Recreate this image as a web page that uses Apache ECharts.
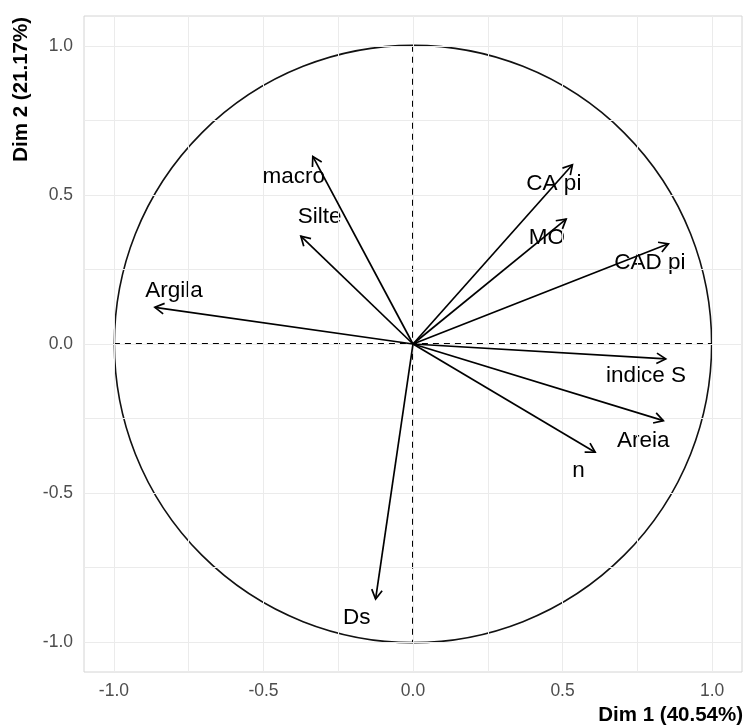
<!DOCTYPE html>
<html>
<head>
<meta charset="utf-8">
<script src="https://cdn.jsdelivr.net/npm/echarts@6/dist/echarts.min.js"></script>
<style>
html,body{margin:0;padding:0;background:#fff;}
#chart{width:745px;height:727px;}
</style>
</head>
<body>
<div id="chart"></div>
<script>
// ---- data ----
const variables = ['Argila', 'macro', 'Silte', 'CA pi', 'MO', 'CAD pi', 'indice S', 'Areia', 'n', 'Ds'];
const dim1 = [-0.863, -0.335, -0.375, 0.533, 0.512, 0.854, 0.845, 0.837, 0.609, -0.125];
const dim2 = [0.123, 0.629, 0.362, 0.601, 0.419, 0.336, -0.050, -0.257, -0.363, -0.855];
// label anchor (data units, as placed in the reference)
const labelDim1 = [-0.799, -0.399, -0.312, 0.471, 0.448, 0.792, 0.779, 0.770, 0.553, -0.188];
const labelDim2 = [0.177, 0.560, 0.427, 0.538, 0.357, 0.274, -0.108, -0.324, -0.425, -0.919];
const tickValues = [-1, -0.5, 0, 0.5, 1];
const gridValues = [-1, -0.75, -0.5, -0.25, 0, 0.25, 0.5, 0.75, 1];
const xTitle = 'Dim 1 (40.54%)';
const yTitle = 'Dim 2 (21.17%)';

const FONT = '"Liberation Sans", Arial, Helvetica, sans-serif';

const arrowData = variables.map((v, i) => [dim1[i], dim2[i], labelDim1[i], labelDim2[i], v]);

const chart = echarts.init(document.getElementById('chart'), null, {renderer: 'canvas'});

function axisCommon() {
  return {
    type: 'value', min: -1.1, max: 1.1,
    axisLine: {show: false},
    splitLine: {show: false},
    axisTick: {show: true, customValues: tickValues, length: 5, lineStyle: {color: '#333333', width: 1}},
    axisLabel: {
      customValues: tickValues, color: '#4d4d4d', fontSize: 17.5, fontFamily: FONT,
      formatter: v => v.toFixed(1)
    }
  };
}

const xAxis = axisCommon(); xAxis.axisLabel.margin = 10;
const yAxis = axisCommon(); yAxis.axisLabel.margin = 11;

const option = {
  animation: false,
  backgroundColor: '#ffffff',
  grid: {left: 84, top: 16, width: 658, height: 656, show: true, borderColor: '#d4d4d4', borderWidth: 1, backgroundColor: 'transparent'},
  xAxis: xAxis,
  yAxis: yAxis,
  graphic: [
    {type: 'text', right: 2, top: 705, style: {text: xTitle, font: 'bold 20.5px ' + FONT, fill: '#000'}},
    {type: 'text', x: 11, y: 17, rotation: Math.PI / 2, style: {text: yTitle, font: 'bold 20.5px ' + FONT, fill: '#000', align: 'right', verticalAlign: 'top'}}
  ],
  series: [
    {
      // background grid lines
      type: 'line', data: [], silent: true, z: 1,
      markLine: {
        silent: true, symbol: 'none', animation: false,
        label: {show: false},
        lineStyle: {color: '#ebebeb', width: 1, type: 'solid'},
        data: gridValues.map(v => ({xAxis: v})).concat(gridValues.map(v => ({yAxis: v})))
      }
    },
    {
      // unit circle and dashed reference lines
      type: 'custom', silent: true, z: 3,
      data: [[0, 0]],
      renderItem: function (params, api) {
        const c = api.coord([0, 0]);
        const s = api.size([1, 1]);
        const r = (s[0] + s[1]) / 2;
        const l = api.coord([-1, 0]), rr = api.coord([1, 0]);
        const t = api.coord([0, 1]), b = api.coord([0, -1]);
        const hy = Math.round(l[1]), vx = Math.round(t[0]);
        const dash = {stroke: '#000', lineWidth: 2, lineDash: [6, 5]};
        return {
          type: 'group',
          children: [
            {type: 'circle', shape: {cx: c[0], cy: c[1], r: r}, style: {fill: 'none', stroke: '#111', lineWidth: 1.6}},
            {type: 'line', shape: {x1: l[0], y1: hy, x2: rr[0], y2: hy}, style: dash},
            {type: 'line', shape: {x1: vx, y1: t[1], x2: vx, y2: b[1]}, style: dash}
          ]
        };
      }
    },
    {
      // variable labels (drawn beneath the arrows, as in the reference)
      type: 'custom', silent: true, z: 4,
      data: arrowData,
      renderItem: function (params, api) {
        const lp = api.coord([api.value(2), api.value(3)]);
        const name = variables[params.dataIndex];
        return {
          type: 'text', x: lp[0], y: lp[1],
          style: {text: name, fill: '#000', font: '22.5px ' + FONT, align: 'center', verticalAlign: 'middle'}
        };
      }
    },
    {
      // variable arrows
      type: 'custom', silent: true, z: 5,
      data: arrowData,
      renderItem: function (params, api) {
        const o = api.coord([0, 0]);
        const p = api.coord([api.value(0), api.value(1)]);
        const a = Math.atan2(p[1] - o[1], p[0] - o[0]);
        const L = 10.5, th = Math.PI / 6;
        const a1 = [p[0] - L * Math.cos(a - th), p[1] - L * Math.sin(a - th)];
        const a2 = [p[0] - L * Math.cos(a + th), p[1] - L * Math.sin(a + th)];
        const st = {stroke: '#000', lineWidth: 1.7, fill: 'none'};
        return {
          type: 'group',
          children: [
            {type: 'line', shape: {x1: o[0], y1: o[1], x2: p[0], y2: p[1]}, style: st},
            {type: 'polyline', shape: {points: [a1, p, a2]}, style: st}
          ]
        };
      }
    }
  ]
};
chart.setOption(option);
</script>
</body>
</html>
